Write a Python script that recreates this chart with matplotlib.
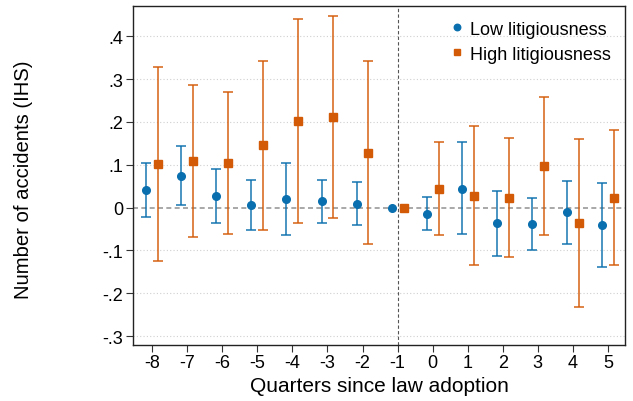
import matplotlib
matplotlib.use("Agg")
import matplotlib.pyplot as plt
import numpy as np

plt.rcParams['font.family'] = ['Liberation Sans', 'DejaVu Sans']

quarters = [-8, -7, -6, -5, -4, -3, -2, -1, 0, 1, 2, 3, 4, 5]

low_est = [0.041, 0.074, 0.026, 0.006, 0.020, 0.015, 0.009, 0.0, -0.015, 0.044, -0.037, -0.038, -0.010, -0.041]
low_hi = [0.103, 0.144, 0.090, 0.064, 0.104, 0.064, 0.059, 0.0, 0.024, 0.152, 0.038, 0.023, 0.063, 0.057]
low_lo = [-0.021, 0.005, -0.037, -0.052, -0.064, -0.035, -0.041, 0.0, -0.053, -0.061, -0.113, -0.100, -0.084, -0.138]

high_est = [0.101, 0.109, 0.104, 0.145, 0.202, 0.211, 0.127, 0.0, 0.044, 0.027, 0.023, 0.097, -0.036, 0.023]
high_hi = [0.329, 0.287, 0.270, 0.342, 0.440, 0.448, 0.342, 0.0, 0.152, 0.190, 0.162, 0.257, 0.159, 0.181]
high_lo = [-0.124, -0.068, -0.061, -0.052, -0.037, -0.025, -0.086, 0.0, -0.064, -0.134, -0.116, -0.064, -0.232, -0.134]

blue = '#0a6fae'
orange = '#d35a06'

x = np.array(quarters, dtype=float)
le = np.array(low_est); lh = np.array(low_hi); ll = np.array(low_lo)
he = np.array(high_est); hh = np.array(high_hi); hl = np.array(high_lo)

fig = plt.figure(figsize=(6.33, 4.02), dpi=100)
ax = fig.add_axes([0.21, 0.14, 0.778, 0.842])

# grid + reference lines
for yv in [-0.3, -0.2, -0.1, 0.1, 0.2, 0.3, 0.4]:
    ax.axhline(yv, color='#d0d0d0', lw=0.8, ls=(0, (1, 2)), zorder=0)
ax.axhline(0, color='#999999', lw=1.2, ls=(0, (3, 2)), zorder=1)
ax.axvline(-1, color='#555555', lw=0.8, ls=(0, (3, 2)), zorder=1)

off = 0.17
mask = np.array(quarters) != -1
ax.errorbar(x[mask] - off, le[mask], yerr=[le[mask] - ll[mask], lh[mask] - le[mask]],
            fmt='none', ecolor=blue, elinewidth=1.3, capsize=3.5, capthick=1.3, alpha=0.8, zorder=2)
ax.errorbar(x[mask] + off, he[mask], yerr=[he[mask] - hl[mask], hh[mask] - he[mask]],
            fmt='none', ecolor=orange, elinewidth=1.3, capsize=3.5, capthick=1.3, alpha=0.8, zorder=2)
ax.plot(x - off, le, 'o', color=blue, ms=5.5, ls='none', label='Low litigiousness', zorder=3)
ax.plot(x + off, he, 's', color=orange, ms=5.5, ls='none', label='High litigiousness', zorder=3)

ax.set_xlim(-8.55, 5.5)
ax.set_ylim(-0.32, 0.47)
ax.set_xticks(quarters)
ax.set_xticklabels([str(q) for q in quarters], fontsize=13)
yt = [-0.3, -0.2, -0.1, 0, 0.1, 0.2, 0.3, 0.4]
ax.set_yticks(yt)
ax.set_yticklabels(['-.3', '-.2', '-.1', '0', '.1', '.2', '.3', '.4'], fontsize=13)
ax.tick_params(axis='both', length=5, width=0.8, color='#333333', pad=2)
for s in ax.spines.values():
    s.set_linewidth(1.0)
    s.set_color('#222222')

ax.set_xlabel('Quarters since law adoption', fontsize=15, labelpad=3)
ax.set_ylabel('Number of accidents (IHS)', fontsize=14.6)
ax.yaxis.set_label_coords(-0.203, 0.49)

ax.legend(loc='upper right', frameon=False, fontsize=13, handletextpad=0.1,
          handlelength=1.2, borderaxespad=0.4, labelspacing=0.45, markerscale=0.85)

fig.savefig('out.png', dpi=100)
